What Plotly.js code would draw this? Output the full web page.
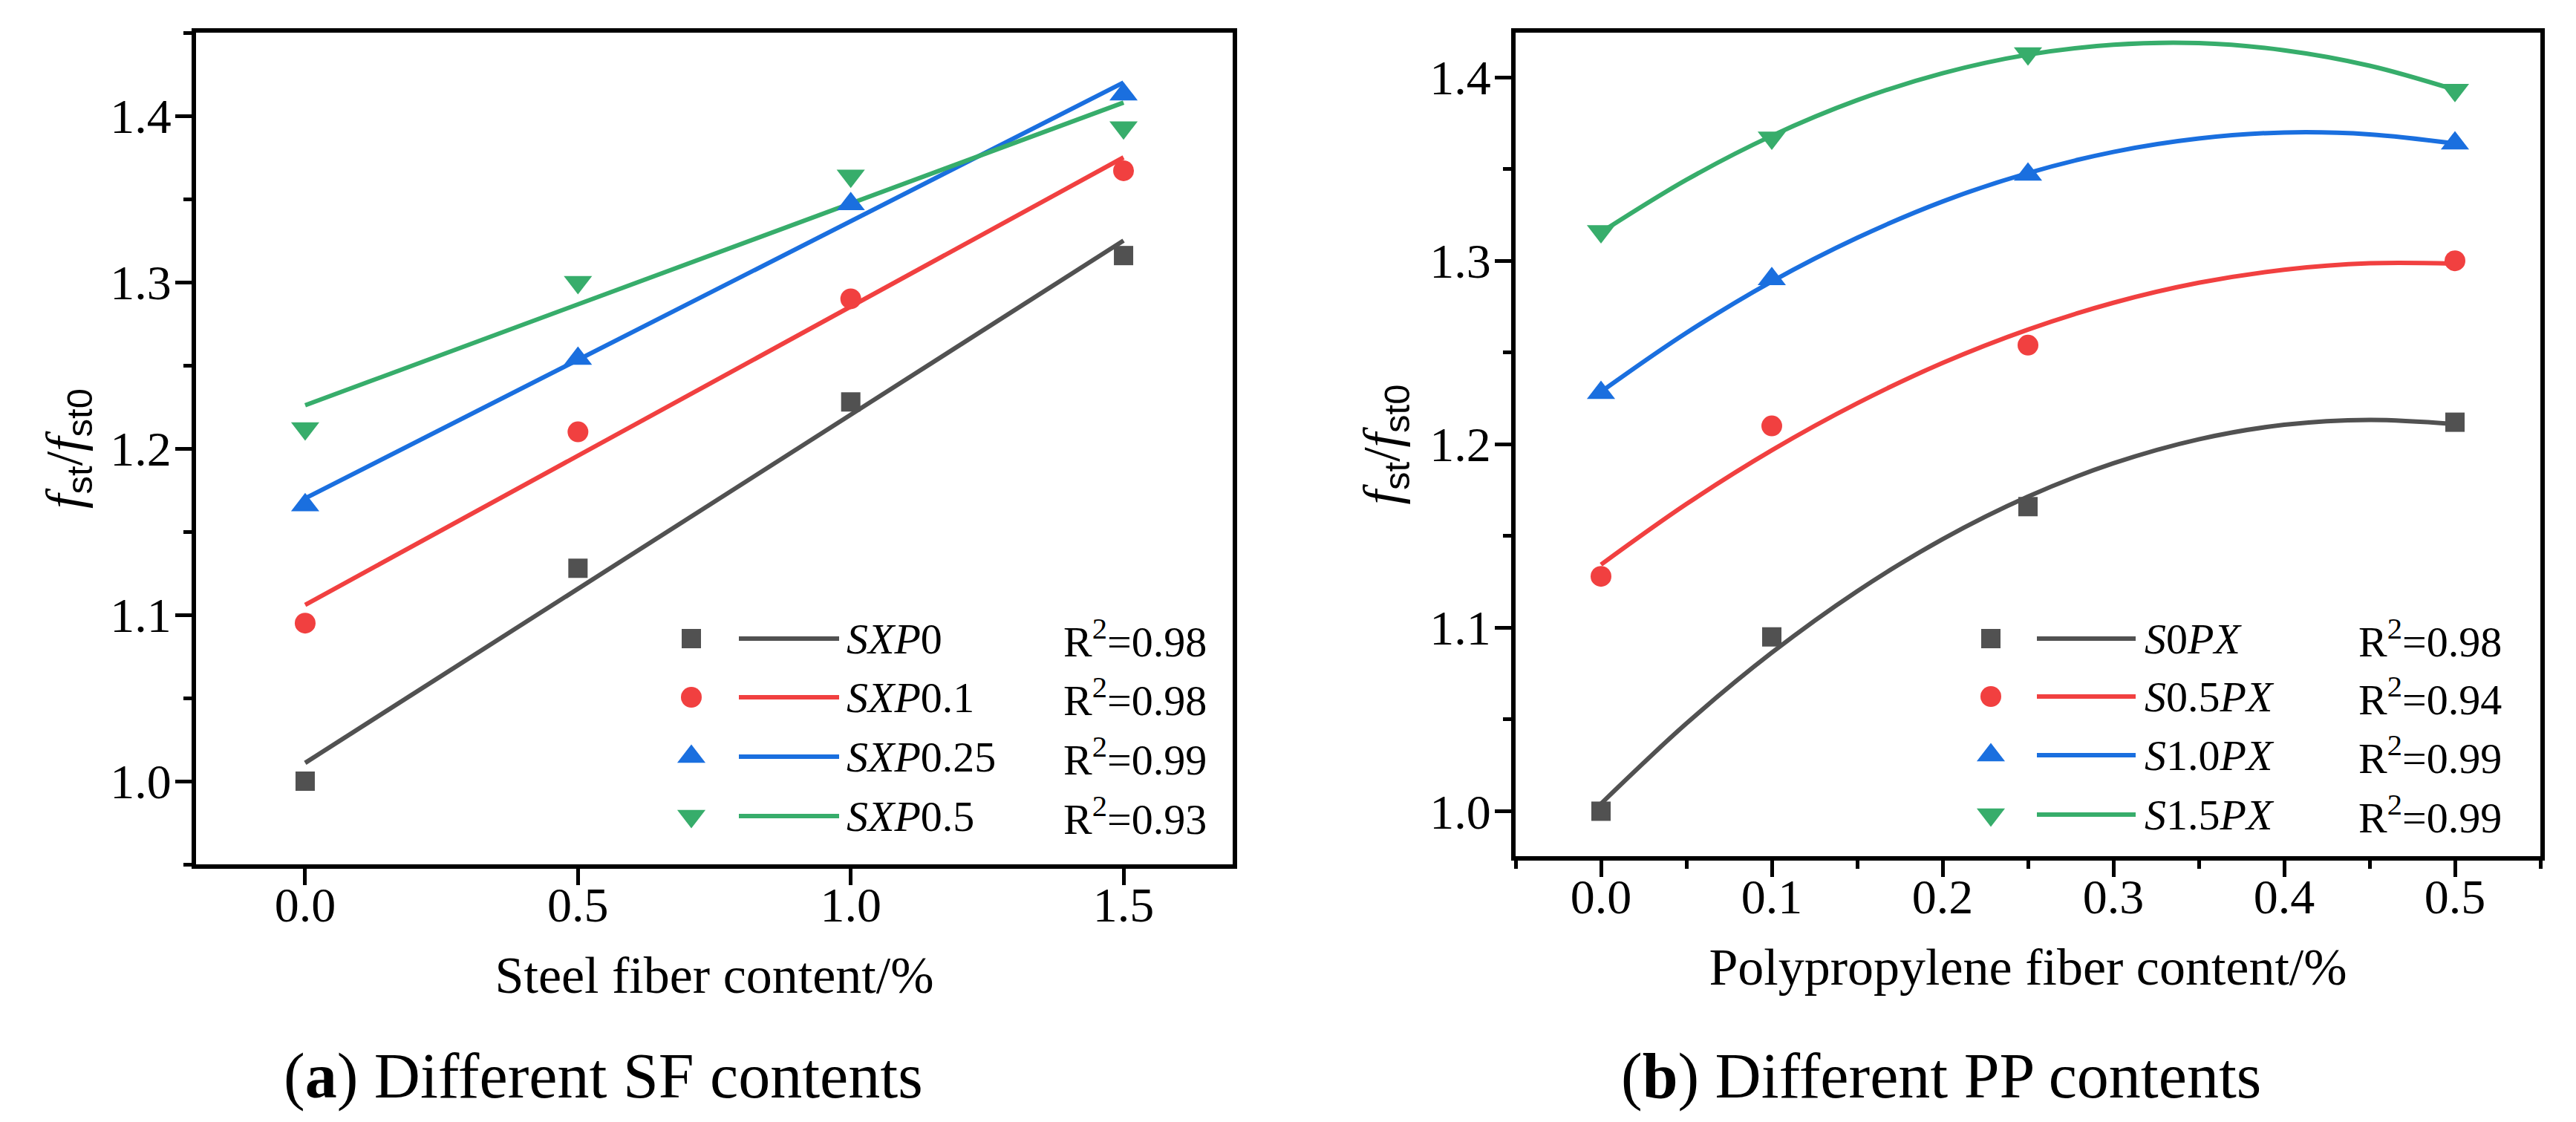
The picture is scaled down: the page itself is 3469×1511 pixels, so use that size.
<!DOCTYPE html>
<html>
<head>
<meta charset="utf-8">
<script src="https://cdn.plot.ly/plotly-3.0.1.min.js"></script>
<style>html,body{margin:0;padding:0;background:#fff;}#chart{width:3469px;height:1511px;}</style>
</head>
<body>
<div id="chart"></div>
<script>
// ---------- data: panel (a) steel fiber content ----------
const sfContent = [0, 0.5, 1.0, 1.5];
const SXP0   = [1.000, 1.128, 1.228, 1.316];
const SXP01  = [1.095, 1.210, 1.290, 1.367];
const SXP025 = [1.166, 1.254, 1.347, 1.413];
const SXP05  = [1.212, 1.300, 1.364, 1.393];
// linear fit lines (end points)
const sfFitX = [0, 1.5];
const SXP0fit   = [1.011, 1.325];
const SXP01fit  = [1.106, 1.375];
const SXP025fit = [1.170, 1.420];
const SXP05fit  = [1.226, 1.408];

// ---------- data: panel (b) polypropylene fiber content ----------
const ppContent = [0, 0.1, 0.25, 0.5];
const S0PX  = [1.000, 1.095, 1.166, 1.212];
const S05PX = [1.128, 1.210, 1.254, 1.300];
const S10PX = [1.228, 1.290, 1.347, 1.364];
const S15PX = [1.316, 1.367, 1.413, 1.393];
// fitted curves
const ppFitX = [0, 0.05, 0.10, 0.15, 0.20, 0.25, 0.30, 0.35, 0.40, 0.45, 0.50];
const S0PXfit  = [1.0041, 1.0478, 1.0864, 1.1199, 1.1483, 1.1715, 1.1896, 1.2027, 1.2106, 1.2133, 1.2110];
const S05PXfit = [1.1344, 1.1674, 1.1967, 1.2223, 1.2443, 1.2625, 1.2771, 1.2880, 1.2951, 1.2986, 1.2984];
const S10PXfit = [1.2286, 1.2607, 1.2887, 1.3125, 1.3323, 1.3478, 1.3593, 1.3666, 1.3699, 1.3689, 1.3639];
const S15PXfit = [1.3155, 1.3441, 1.3681, 1.3875, 1.4022, 1.4123, 1.4177, 1.4186, 1.4147, 1.4063, 1.3932];

const namesA = ['<i>SXP</i>0', '<i>SXP</i>0.1', '<i>SXP</i>0.25', '<i>SXP</i>0.5'];
const namesB = ['<i>S</i>0<i>PX</i>', '<i>S</i>0.5<i>PX</i>', '<i>S</i>1.0<i>PX</i>', '<i>S</i>1.5<i>PX</i>'];
const r2A = ['0.98', '0.98', '0.99', '0.93'];
const r2B = ['0.98', '0.94', '0.99', '0.99'];

// ---------- styles ----------
const colors  = ['#515151', '#F14040', '#1A6FDF', '#37AD6B'];
const symbols = ['square', 'circle', 'triangle-up', 'triangle-down'];
const msizes  = [26, 28, 33, 33];
const SERIF = 'Liberation Serif';

const W = 3469, H = 1511;
const traces = [];

function addPanel(xa, ya, xs, ys, fx, fys, shape) {
  for (let i = 0; i < 4; i++) {
    traces.push({x: fx, y: fys[i], xaxis: xa, yaxis: ya, mode: 'lines', type: 'scatter',
      line: {color: colors[i], width: 6, shape: shape}, showlegend: false, hoverinfo: 'skip'});
  }
  for (let i = 0; i < 4; i++) {
    traces.push({x: xs, y: ys[i], xaxis: xa, yaxis: ya, mode: 'markers', type: 'scatter',
      marker: {color: colors[i], symbol: symbols[i], size: msizes[i], line: {width: 0}},
      showlegend: false, cliponaxis: false});
  }
}
addPanel('x', 'y', sfContent, [SXP0, SXP01, SXP025, SXP05], sfFitX, [SXP0fit, SXP01fit, SXP025fit, SXP05fit], 'linear');
addPanel('x2', 'y2', ppContent, [S0PX, S05PX, S10PX, S15PX], ppFitX, [S0PXfit, S05PXfit, S10PXfit, S15PXfit], 'spline');

// ---------- custom legends drawn on a pixel-coordinate overlay axis ----------
const annotations = [];
function addLegend(markerX, lineX0, lineX1, textX, r2X, rowsY, names, r2s) {
  for (let i = 0; i < 4; i++) {
    traces.push({x: [markerX], y: [rowsY[i]], xaxis: 'x3', yaxis: 'y3', mode: 'markers', type: 'scatter',
      marker: {color: colors[i], symbol: symbols[i], size: msizes[i], line: {width: 0}},
      showlegend: false, hoverinfo: 'skip', cliponaxis: false});
    traces.push({x: [lineX0, lineX1], y: [rowsY[i], rowsY[i]], xaxis: 'x3', yaxis: 'y3', mode: 'lines', type: 'scatter',
      line: {color: colors[i], width: 6}, showlegend: false, hoverinfo: 'skip'});
    annotations.push({xref: 'x3', yref: 'y3', x: textX, y: rowsY[i], xanchor: 'left', yanchor: 'middle',
      text: names[i], showarrow: false, font: {family: SERIF, size: 58, color: '#000'}});
    annotations.push({xref: 'x3', yref: 'y3', x: r2X, y: rowsY[i], xanchor: 'left', yanchor: 'middle',
      text: 'R<sup>2</sup>=' + r2s[i], showarrow: false, font: {family: SERIF, size: 58, color: '#000'}});
  }
}
addLegend(931, 995, 1130, 1138, 1430, [860, 939, 1019, 1099], namesA, r2A);
addLegend(2681, 2743, 2876, 2886, 3174, [860, 938, 1017, 1097], namesB, r2B);

annotations.push({xref: 'x3', yref: 'y3', x: 812, y: 1449, xanchor: 'center', yanchor: 'middle', showarrow: false,
  text: '(<b>a</b>) Different SF contents', font: {family: SERIF, size: 86, color: '#000'}});
annotations.push({xref: 'x3', yref: 'y3', x: 2614, y: 1449, xanchor: 'center', yanchor: 'middle', showarrow: false,
  text: '(<b>b</b>) Different PP contents', font: {family: SERIF, size: 86, color: '#000'}});

// ---------- axes ----------
const yTitle = '<i>f</i><sub><span style="font-family:Liberation Sans">st</span></sub>/<i>f</i><sub><span style="font-family:Liberation Sans">st0</span></sub>';
function axisBase() {
  return {showgrid: false, zeroline: false, showline: true, linecolor: '#000', linewidth: 6, mirror: true,
    ticks: 'outside', ticklen: 22, tickwidth: 5, tickcolor: '#000',
    tickfont: {family: SERIF, size: 66, color: '#000'},
    tickformat: '.1f', fixedrange: true, automargin: false};
}
const titleFont = () => ({family: SERIF, size: 70, color: '#000'});
const px = v => v / W, py = v => 1 - v / H;
const minorY = () => ({ticks: 'outside', ticklen: 11, tickwidth: 5, tickcolor: '#000', dtick: 0.05, tick0: 1.0, showgrid: false});

const layout = {
  width: W, height: H,
  font: {family: SERIF, color: '#000'},
  margin: {l: 0, r: 0, t: 0, b: 0},
  paper_bgcolor: '#fff', plot_bgcolor: 'rgba(0,0,0,0)',
  showlegend: false,
  xaxis: Object.assign(axisBase(), {domain: [px(264), px(1660)], range: [-0.2, 1.7], dtick: 0.5, tick0: 0,
    anchor: 'y', ticklabelstandoff: -30, title: {text: 'Steel fiber content/%', font: titleFont(), standoff: 36}}),
  yaxis: Object.assign(axisBase(), {domain: [py(1164), py(44)], range: [0.95, 1.45], dtick: 0.1, tick0: 1.0,
    anchor: 'x', ticklabelstandoff: -8, minor: minorY(),
    title: {text: yTitle, font: titleFont(), standoff: 17}}),
  xaxis2: Object.assign(axisBase(), {domain: [px(2041), px(3421)], range: [-0.05, 0.55], dtick: 0.1, tick0: 0,
    anchor: 'y2', ticklabelstandoff: -30,
    minor: {ticks: 'outside', ticklen: 11, tickwidth: 5, tickcolor: '#000', dtick: 0.05, tick0: 0, showgrid: false},
    title: {text: 'Polypropylene fiber content/%', font: titleFont(), standoff: 36}}),
  yaxis2: Object.assign(axisBase(), {domain: [py(1153), py(44)], range: [0.9755, 1.4243], dtick: 0.1, tick0: 1.0,
    anchor: 'x2', ticklabelstandoff: -8, minor: minorY(),
    title: {text: yTitle, font: titleFont(), standoff: 20}}),
  xaxis3: {domain: [0, 1], range: [0, W], visible: false, fixedrange: true, anchor: 'y3'},
  yaxis3: {domain: [0, 1], range: [H, 0], visible: false, fixedrange: true, anchor: 'x3'},
  annotations: annotations
};

Plotly.newPlot('chart', traces, layout, {staticPlot: true, displayModeBar: false});
</script>
</body>
</html>
